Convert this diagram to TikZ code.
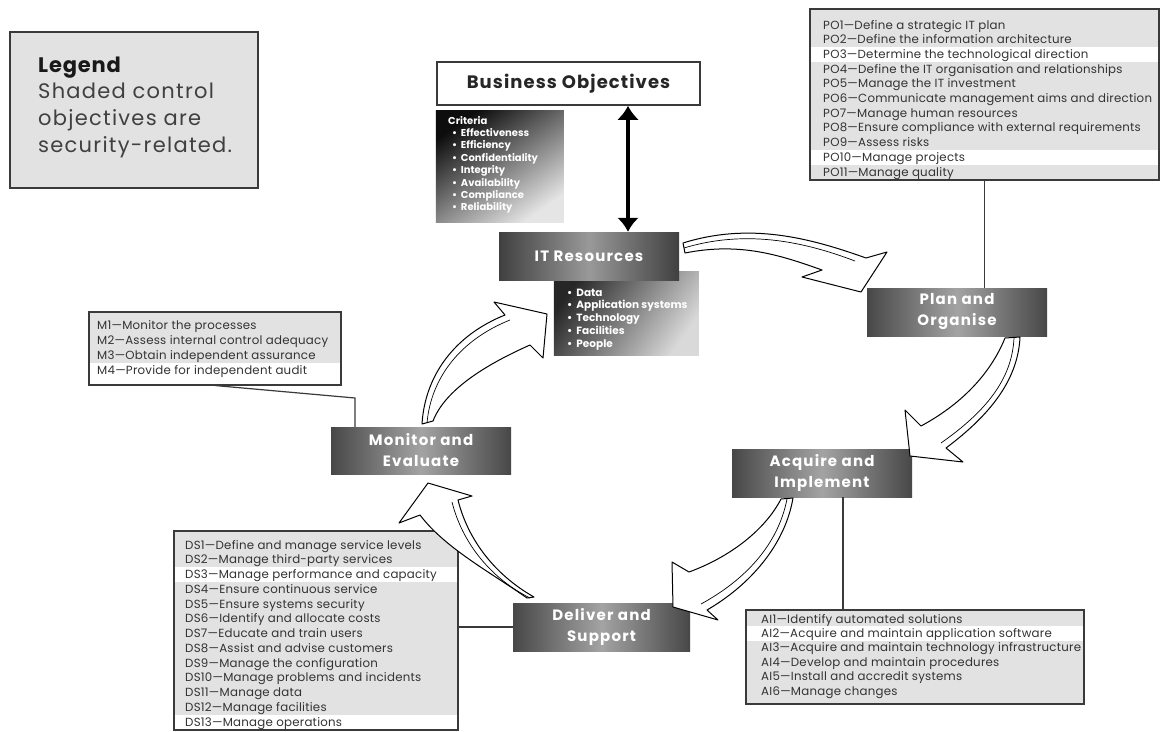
\documentclass[tikz,border=0pt]{standalone}
\usepackage{fontspec}
\setmainfont{Poppins}
\usetikzlibrary{calc,arrows.meta}
\definecolor{rowgray}{HTML}{E2E2E2}
\definecolor{ink}{HTML}{333333}
\definecolor{framegray}{HTML}{3A3A3A}

\begin{document}
\begin{tikzpicture}[x=1pt,y=-1pt,
  panel/.style={draw=framegray, line width=1.5pt, inner sep=0pt, anchor=north west},
  listline/.style={anchor=base west, inner sep=0pt, text=ink, font=\fontsize{11.8}{13}\selectfont\addfontfeatures{LetterSpace=2}},
  procbox/.style={left color=black!72, right color=black!72, middle color=black!36, minimum width=180pt, minimum height=48pt, inner sep=0pt, text=white, align=center, font=\bfseries\fontsize{15}{21}\selectfont\addfontfeatures{LetterSpace=8}},
  link/.style={draw=framegray, line width=1.2pt},
  cyclearrow/.style={fill=white, draw=black, line width=1pt, line join=round},
  arrowedge/.style={draw=black, line width=0.7pt},
  whiteline/.style={anchor=base west, inner sep=0pt, text=white, font=\bfseries\fontsize{10}{12}\selectfont},
]
\useasboundingbox (0,0) rectangle (1161,731);
\fill[white] (0,0) rectangle (1161,731);

% ---------- legend ----------
\node[panel, fill=rowgray, minimum width=248pt, minimum height=156pt] (legend) at (9,31) {};
\node[anchor=base west, inner sep=0pt, font=\bfseries\fontsize{21}{22}\selectfont\addfontfeatures{LetterSpace=4}, text=black!90] (legendhead) at (38,72) {Legend};
\foreach \t [count=\i] in {Shaded control, objectives are, security-related.}
  \node[anchor=base west, inner sep=0pt, font=\fontsize{21}{22}\selectfont\addfontfeatures{LetterSpace=6}, text=black!75] (legend\i) at (38,{72+26.7*\i}) {\t};

% ---------- business objectives and criteria ----------
\node[draw=framegray, line width=1.5pt, fill=white, minimum width=263pt, minimum height=43pt, inner sep=0pt,
      font=\bfseries\fontsize{18}{20}\selectfont\addfontfeatures{LetterSpace=6}, text=black!85] (bo) at (568.5,83.5) {Business Objectives};
\node[panel, draw=none, top color=black!95, bottom color=black!10, shading angle=35,
      minimum width=128pt, minimum height=112pt] (crit) at (435,110) {};
\node[whiteline] (crithead) at (448,124) {Criteria};
\foreach \t [count=\i] in {Effectiveness, Efficiency, Confidentiality, Integrity, Availability, Compliance, Reliability}
  \node[whiteline] (crit\i) at (452,{124+12.4*\i}) {•\, \t};

% ---------- IT resources ----------
\node[panel, draw=none, top color=black!85, bottom color=black!15, shading angle=55,
      minimum width=145pt, minimum height=84pt] (itlist) at (553,271) {};
\foreach \t [count=\i] in {Data, Application systems, Technology, Facilities, People}
  \node[whiteline, font=\bfseries\fontsize{10.5}{12}\selectfont] (itl\i) at (567,{296+12.75*(\i-1)}) {•\, \t};
\node[procbox, left color=black!75, right color=black!75, middle color=black!40] (itr) at (589,256) {IT Resources};

% ---------- the four domains ----------
\node[procbox] (plan) at (957,312) {Plan and\\Organise};
\node[procbox] (acq) at (822,473) {Acquire and\\Implement};
\node[procbox, minimum width=177pt] (dsup) at (601.5,627) {Deliver and\\Support};
\node[procbox, minimum height=47pt] (mon) at (421,450.5) {Monitor and\\Evaluate};

% ---------- double arrow between objectives and resources ----------
\coordinate (bx) at (628,0);
\draw[line width=4pt, {Latex[length=14pt,width=22pt]}-{Latex[length=14pt,width=22pt]}]
  (bx |- bo.south) -- (bx |- itr.north);

% ---------- PO list ----------
\fill[rowgray] (809,8) rectangle (1158,179);
\fill[white] (809,47.05) rectangle (1158,61.75);
\fill[white] (809,149.95) rectangle (1158,164.65);
\node[panel, minimum width=349pt, minimum height=171pt] (po) at (809,8) {};
\foreach \t [count=\i] in {PO1—Define a strategic IT plan, PO2—Define the information architecture,
  PO3—Determine the technological direction, PO4—Define the IT organisation and relationships,
  PO5—Manage the IT investment, PO6—Communicate management aims and direction,
  PO7—Manage human resources, PO8—Ensure compliance with external requirements,
  PO9—Assess risks, PO10—Manage projects, PO11—Manage quality}
  \node[listline] (pol\i) at (823,{29+14.7*(\i-1)}) {\t};

% ---------- M list ----------
\fill[rowgray] (88,311) rectangle (340,384);
\fill[white] (88,362.5) rectangle (340,384);
\node[panel, minimum width=252pt, minimum height=73pt] (mlist) at (88,311) {};
\foreach \t [count=\i] in {M1—Monitor the processes, M2—Assess internal control adequacy,
  M3—Obtain independent assurance, M4—Provide for independent audit}
  \node[listline] (ml\i) at (97,{329+15*(\i-1)}) {\t};

% ---------- DS list ----------
\fill[rowgray] (173,530) rectangle (457,729);
\fill[white] (173,567.1) rectangle (457,581.9);
\fill[white] (173,714.6) rectangle (457,729);
\node[panel, minimum width=284pt, minimum height=199pt] (ds) at (173,530) {};
\foreach \t [count=\i] in {DS1—Define and manage service levels, DS2—Manage third-party services,
  DS3—Manage performance and capacity, DS4—Ensure continuous service,
  DS5—Ensure systems security, DS6—Identify and allocate costs,
  DS7—Educate and train users, DS8—Assist and advise customers,
  DS9—Manage the configuration, DS10—Manage problems and incidents,
  DS11—Manage data, DS12—Manage facilities, DS13—Manage operations}
  \node[listline] (dsl\i) at (185,{549+14.75*(\i-1)}) {\t};

% ---------- AI list ----------
\fill[rowgray] (745,609) rectangle (1083,703);
\fill[white] (745,626.2) rectangle (1083,640.6);
\node[panel, minimum width=338pt, minimum height=94pt] (ai) at (745,609) {};
\foreach \t [count=\i] in {AI1—Identify automated solutions, AI2—Acquire and maintain application software,
  AI3—Acquire and maintain technology infrastructure, AI4—Develop and maintain procedures,
  AI5—Install and accredit systems, AI6—Manage changes}
  \node[listline] (ail\i) at (761,{623+14.4*(\i-1)}) {\t};

% ---------- links from lists to domains ----------
\draw[link] (po.south) -- (po.south |- plan.north);
\coordinate (aix) at (843,0);
\draw[link] (aix |- acq.south) -- (aix |- ai.north);
\draw[link] (dsup.west) -- (dsup.west -| ds.east);
\coordinate (mbend) at (355,398);
\draw[link] (mlist.south) -- (mbend) -- (mbend |- mon.north);

% ---------- cycle arrows ----------
% resources -> plan and organise
\draw[cyclearrow] (683,243) .. controls (750,222) and (810,238) .. (866,258)
  -- (887,252) -- (861,292) -- (802,277) -- (822,270)
  .. controls (780,255) and (740,242) .. (685,253) -- cycle;
\draw[arrowedge] (684,248) .. controls (750,228) and (810,244) .. (855,261);
% plan and organise -> acquire and implement
\draw[cyclearrow] (1005,338) .. controls (990,375) and (960,405) .. (921,426)
  -- (905,410) -- (910,456) -- (963,462) -- (946,448)
  .. controls (990,415) and (1018,380) .. (1020,337) -- cycle;
\draw[arrowedge] (1014,338) .. controls (1012,380) and (985,412) .. (941,443);
% acquire and implement -> deliver and support
\draw[cyclearrow] (781,499) .. controls (765,530) and (730,557) .. (689,572)
  -- (672,562) -- (673,607) -- (718,620) -- (707,610)
  .. controls (750,585) and (785,545) .. (793,498) -- cycle;
\draw[arrowedge] (787,499) .. controls (778,545) and (745,580) .. (701,604);
% deliver and support -> monitor and evaluate
\draw[cyclearrow] (527,598) .. controls (490,572) and (445,548) .. (420,515)
  -- (399,523) -- (428,483) -- (472,496) -- (458,500)
  .. controls (468,540) and (495,575) .. (534,597) -- cycle;
\draw[arrowedge] (452,502) .. controls (462,542) and (490,578) .. (530,598);
% monitor and evaluate -> resources
\draw[cyclearrow] (422,424) .. controls (425,375) and (455,335) .. (505,315)
  -- (494,302) -- (547,314) -- (543,358) -- (530,345)
  .. controls (485,365) and (445,390) .. (433,421) -- cycle;
\draw[arrowedge] (427,423) .. controls (431,378) and (460,340) .. (510,320);
\end{tikzpicture}
\end{document}
